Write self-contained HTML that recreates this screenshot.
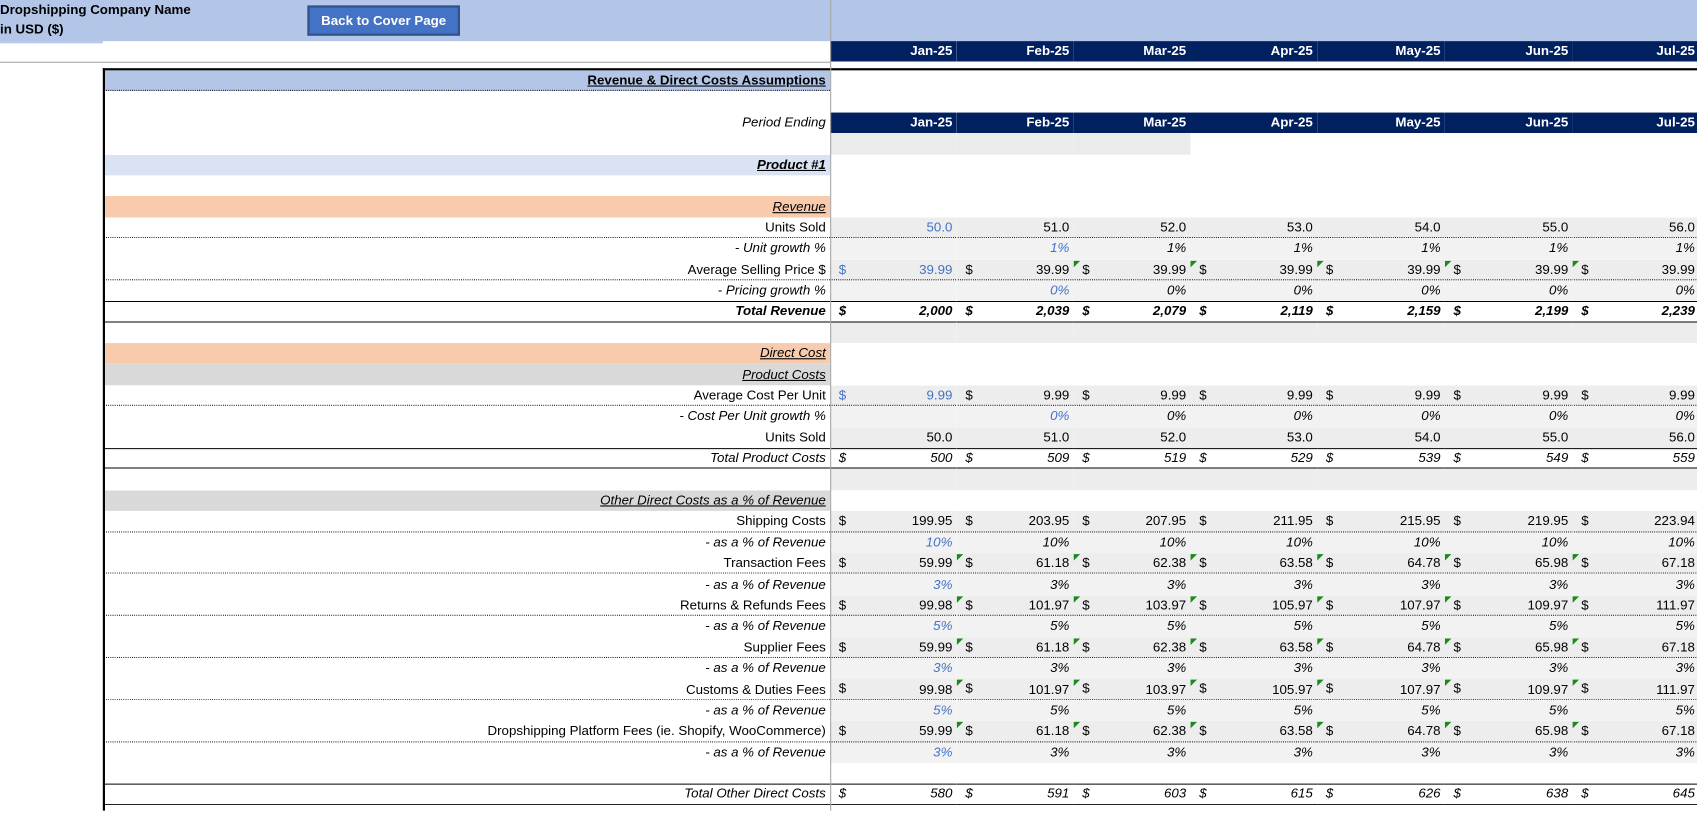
<!DOCTYPE html>
<html><head><meta charset="utf-8"><style>
body{margin:0;width:1697px;height:810px;overflow:hidden;background:#fff;font-family:"Liberation Sans",sans-serif;color:#000;position:relative}
#w{position:absolute;left:0;top:0;width:1600px;height:749px;transform:scale(1.0823);transform-origin:0 0;font-size:12.3px}
.abs{position:absolute}
table{border-collapse:collapse;table-layout:fixed;position:absolute;left:0;width:1578px}
td{height:19.4px;padding:0 4px 0 0;white-space:nowrap;text-align:right;position:relative;overflow:hidden;line-height:19px}
td.l{padding-right:4px}
td.e{border:none}
.d{position:absolute;left:8px;top:0}
.t{position:absolute;left:0;top:1px;width:0;height:0;border-top:6px solid #1a8a1a;border-right:6px solid transparent}
.bl{color:#4472c4}
tr.a td:nth-child(n+3){background-color:#ededed}
tr.b td:nth-child(n+3){background-color:#f2f2f2}
tr.dt td:nth-child(n+2),td.dl{background-image:linear-gradient(to right,#000 50%,transparent 50%);background-size:2px 1px;background-repeat:repeat-x;background-position:bottom}
tr.it td{font-style:italic}
tr.bi td{font-style:italic;font-weight:bold}
tr.tb td:nth-child(n+2){box-shadow:inset 0 1px 0 #000,inset 0 -1px 0 #000}
.hd td{color:#fff;font-weight:bold;background:#002060}
.u{text-decoration:underline}
</style></head><body><div id="w">
<div class="abs" style="left:0;top:0;width:1600px;height:38px;background:#b4c6e7"></div>
<div class="abs" style="left:0;top:38px;width:95px;height:2px;background:#b4c6e7"></div>
<div class="abs" style="left:0;top:2px;font-weight:bold">Dropshipping Company Name</div>
<div class="abs" style="left:0;top:20px;font-weight:bold">in USD ($)</div>
<div class="abs" style="left:284px;top:5px;width:137px;height:24px;background:#4472c4;border:2px solid #2f528f;color:#fff;font-weight:bold;line-height:24px;text-align:center">Back to Cover Page</div>
<div class="abs" style="left:0;top:57px;width:767px;height:1px;background:#a6a6a6"></div>
<div class="abs" style="left:767px;top:0;width:1px;height:749px;background:#a6a6a6;z-index:5"></div>
<div class="abs" style="left:95px;top:63px;width:1505px;height:2px;background:#000"></div>
<div class="abs" style="left:95px;top:63px;width:2px;height:686px;background:#000;z-index:5"></div>

<table style="top:38px">
<colgroup><col style="width:767px"><col style="width:117px"><col style="width:108px"><col style="width:108px"><col style="width:117px"><col style="width:118px"><col style="width:118px"><col style="width:117px"><col style="width:8px"></colgroup>
<tr class="hd"><td style="background:none"></td><td>Jan-25</td><td>Feb-25</td><td>Mar-25</td><td>Apr-25</td><td>May-25</td><td>Jun-25</td><td>Jul-25</td><td></td></tr>
</table>

<table style="top:65px">
<colgroup><col style="width:95px"><col style="width:672px"><col style="width:117px"><col style="width:108px"><col style="width:108px"><col style="width:117px"><col style="width:118px"><col style="width:118px"><col style="width:117px"><col style="width:8px"></colgroup>
<tr><td class="e"></td><td class="l dl" style="background-color:#b4c6e7;font-weight:bold"><span class="u">Revenue &amp; Direct Costs Assumptions</span></td><td></td><td></td><td></td><td></td><td></td><td></td><td></td><td></td></tr>
<tr><td class="e"></td><td class="l"></td><td></td><td></td><td></td><td></td><td></td><td></td><td></td><td></td></tr>
<tr class="hd"><td class="e" style="background:none"></td><td class="l" style="background:#fff;color:#000;font-weight:normal;font-style:italic">Period Ending</td><td>Jan-25</td><td>Feb-25</td><td>Mar-25</td><td>Apr-25</td><td>May-25</td><td>Jun-25</td><td>Jul-25</td><td></td></tr>
<tr><td class="e"></td><td class="l"></td><td style="background:#ebebeb"></td><td style="background:#ebebeb"></td><td style="background:#ebebeb"></td><td></td><td></td><td></td><td></td><td></td></tr>
<tr><td class="e"></td><td class="l" style="background:#dae3f3;font-weight:bold;font-style:italic"><span class="u">Product #1</span></td><td></td><td></td><td></td><td></td><td></td><td></td><td></td><td></td></tr>
<tr><td class="e"></td><td class="l"></td><td></td><td></td><td></td><td></td><td></td><td></td><td></td><td></td></tr>
<tr><td class="e"></td><td class="l" style="background:#f8cbad;font-style:italic"><span class="u">Revenue</span></td><td></td><td></td><td></td><td></td><td></td><td></td><td></td><td></td></tr>
<tr class="a dt"><td class="e"></td><td class="l">Units Sold</td><td class="bl">50.0</td><td>51.0</td><td>52.0</td><td>53.0</td><td>54.0</td><td>55.0</td><td>56.0</td><td></td></tr>
<tr class="b it"><td class="e"></td><td class="l">- Unit growth %</td><td></td><td class="bl">1%</td><td>1%</td><td>1%</td><td>1%</td><td>1%</td><td>1%</td><td></td></tr>
<tr class="a dt"><td class="e"></td><td class="l">Average Selling Price $</td><td class="bl"><span class="d">$</span>39.99</td><td><span class="d">$</span>39.99</td><td><span class="t"></span><span class="d">$</span>39.99</td><td><span class="t"></span><span class="d">$</span>39.99</td><td><span class="t"></span><span class="d">$</span>39.99</td><td><span class="t"></span><span class="d">$</span>39.99</td><td><span class="t"></span><span class="d">$</span>39.99</td><td></td></tr>
<tr class="b it"><td class="e"></td><td class="l">- Pricing growth %</td><td></td><td class="bl">0%</td><td>0%</td><td>0%</td><td>0%</td><td>0%</td><td>0%</td><td></td></tr>
<tr class="bi tb"><td class="e"></td><td class="l">Total Revenue</td><td><span class="d">$</span>2,000</td><td><span class="d">$</span>2,039</td><td><span class="d">$</span>2,079</td><td><span class="d">$</span>2,119</td><td><span class="d">$</span>2,159</td><td><span class="d">$</span>2,199</td><td><span class="d">$</span>2,239</td><td></td></tr>
<tr class="a"><td class="e"></td><td class="l"></td><td></td><td></td><td></td><td></td><td></td><td></td><td></td><td></td></tr>
<tr><td class="e"></td><td class="l" style="background:#f8cbad;font-style:italic"><span class="u">Direct Cost</span></td><td></td><td></td><td></td><td></td><td></td><td></td><td></td><td></td></tr>
<tr><td class="e"></td><td class="l" style="background:#d9d9d9;font-style:italic"><span class="u">Product Costs</span></td><td></td><td></td><td></td><td></td><td></td><td></td><td></td><td></td></tr>
<tr class="a dt"><td class="e"></td><td class="l">Average Cost Per Unit</td><td class="bl"><span class="d">$</span>9.99</td><td><span class="d">$</span>9.99</td><td><span class="d">$</span>9.99</td><td><span class="d">$</span>9.99</td><td><span class="d">$</span>9.99</td><td><span class="d">$</span>9.99</td><td><span class="d">$</span>9.99</td><td></td></tr>
<tr class="b it"><td class="e"></td><td class="l">- Cost Per Unit growth %</td><td></td><td class="bl">0%</td><td>0%</td><td>0%</td><td>0%</td><td>0%</td><td>0%</td><td></td></tr>
<tr class="a"><td class="e"></td><td class="l">Units Sold</td><td>50.0</td><td>51.0</td><td>52.0</td><td>53.0</td><td>54.0</td><td>55.0</td><td>56.0</td><td></td></tr>
<tr class="it tb"><td class="e"></td><td class="l">Total Product Costs</td><td><span class="d">$</span>500</td><td><span class="d">$</span>509</td><td><span class="d">$</span>519</td><td><span class="d">$</span>529</td><td><span class="d">$</span>539</td><td><span class="d">$</span>549</td><td><span class="d">$</span>559</td><td></td></tr>
<tr class="a"><td class="e"></td><td class="l"></td><td></td><td></td><td></td><td></td><td></td><td></td><td></td><td></td></tr>
<tr><td class="e"></td><td class="l" style="background:#d9d9d9;font-style:italic"><span class="u">Other Direct Costs as a % of Revenue</span></td><td></td><td></td><td></td><td></td><td></td><td></td><td></td><td></td></tr>
<tr class="a dt"><td class="e"></td><td class="l">Shipping Costs</td><td><span class="d">$</span>199.95</td><td><span class="d">$</span>203.95</td><td><span class="d">$</span>207.95</td><td><span class="d">$</span>211.95</td><td><span class="d">$</span>215.95</td><td><span class="d">$</span>219.95</td><td><span class="d">$</span>223.94</td><td></td></tr>
<tr class="b it"><td class="e"></td><td class="l">- as a % of Revenue</td><td class="bl">10%</td><td>10%</td><td>10%</td><td>10%</td><td>10%</td><td>10%</td><td>10%</td><td></td></tr>
<tr class="a dt"><td class="e"></td><td class="l">Transaction Fees</td><td><span class="d">$</span>59.99</td><td><span class="t"></span><span class="d">$</span>61.18</td><td><span class="t"></span><span class="d">$</span>62.38</td><td><span class="t"></span><span class="d">$</span>63.58</td><td><span class="t"></span><span class="d">$</span>64.78</td><td><span class="t"></span><span class="d">$</span>65.98</td><td><span class="t"></span><span class="d">$</span>67.18</td><td></td></tr>
<tr class="b it"><td class="e"></td><td class="l">- as a % of Revenue</td><td class="bl">3%</td><td>3%</td><td>3%</td><td>3%</td><td>3%</td><td>3%</td><td>3%</td><td></td></tr>
<tr class="a dt"><td class="e"></td><td class="l">Returns &amp; Refunds Fees</td><td><span class="d">$</span>99.98</td><td><span class="t"></span><span class="d">$</span>101.97</td><td><span class="t"></span><span class="d">$</span>103.97</td><td><span class="t"></span><span class="d">$</span>105.97</td><td><span class="t"></span><span class="d">$</span>107.97</td><td><span class="t"></span><span class="d">$</span>109.97</td><td><span class="t"></span><span class="d">$</span>111.97</td><td></td></tr>
<tr class="b it"><td class="e"></td><td class="l">- as a % of Revenue</td><td class="bl">5%</td><td>5%</td><td>5%</td><td>5%</td><td>5%</td><td>5%</td><td>5%</td><td></td></tr>
<tr class="a dt"><td class="e"></td><td class="l">Supplier Fees</td><td><span class="d">$</span>59.99</td><td><span class="t"></span><span class="d">$</span>61.18</td><td><span class="t"></span><span class="d">$</span>62.38</td><td><span class="t"></span><span class="d">$</span>63.58</td><td><span class="t"></span><span class="d">$</span>64.78</td><td><span class="t"></span><span class="d">$</span>65.98</td><td><span class="t"></span><span class="d">$</span>67.18</td><td></td></tr>
<tr class="b it"><td class="e"></td><td class="l">- as a % of Revenue</td><td class="bl">3%</td><td>3%</td><td>3%</td><td>3%</td><td>3%</td><td>3%</td><td>3%</td><td></td></tr>
<tr class="a dt"><td class="e"></td><td class="l">Customs &amp; Duties Fees</td><td><span class="d">$</span>99.98</td><td><span class="t"></span><span class="d">$</span>101.97</td><td><span class="t"></span><span class="d">$</span>103.97</td><td><span class="t"></span><span class="d">$</span>105.97</td><td><span class="t"></span><span class="d">$</span>107.97</td><td><span class="t"></span><span class="d">$</span>109.97</td><td><span class="t"></span><span class="d">$</span>111.97</td><td></td></tr>
<tr class="b it"><td class="e"></td><td class="l">- as a % of Revenue</td><td class="bl">5%</td><td>5%</td><td>5%</td><td>5%</td><td>5%</td><td>5%</td><td>5%</td><td></td></tr>
<tr class="a dt"><td class="e"></td><td class="l">Dropshipping Platform Fees (ie. Shopify, WooCommerce)</td><td><span class="d">$</span>59.99</td><td><span class="t"></span><span class="d">$</span>61.18</td><td><span class="t"></span><span class="d">$</span>62.38</td><td><span class="t"></span><span class="d">$</span>63.58</td><td><span class="t"></span><span class="d">$</span>64.78</td><td><span class="t"></span><span class="d">$</span>65.98</td><td><span class="t"></span><span class="d">$</span>67.18</td><td></td></tr>
<tr class="b it"><td class="e"></td><td class="l">- as a % of Revenue</td><td class="bl">3%</td><td>3%</td><td>3%</td><td>3%</td><td>3%</td><td>3%</td><td>3%</td><td></td></tr>
<tr><td class="e"></td><td class="l"></td><td></td><td></td><td></td><td></td><td></td><td></td><td></td><td></td></tr>
<tr class="it tb"><td class="e"></td><td class="l">Total Other Direct Costs</td><td><span class="d">$</span>580</td><td><span class="d">$</span>591</td><td><span class="d">$</span>603</td><td><span class="d">$</span>615</td><td><span class="d">$</span>626</td><td><span class="d">$</span>638</td><td><span class="d">$</span>645</td><td></td></tr>
<tr><td class="e"></td><td class="l"></td><td></td><td></td><td></td><td></td><td></td><td></td><td></td><td></td></tr>
</table>
</div></body></html>
